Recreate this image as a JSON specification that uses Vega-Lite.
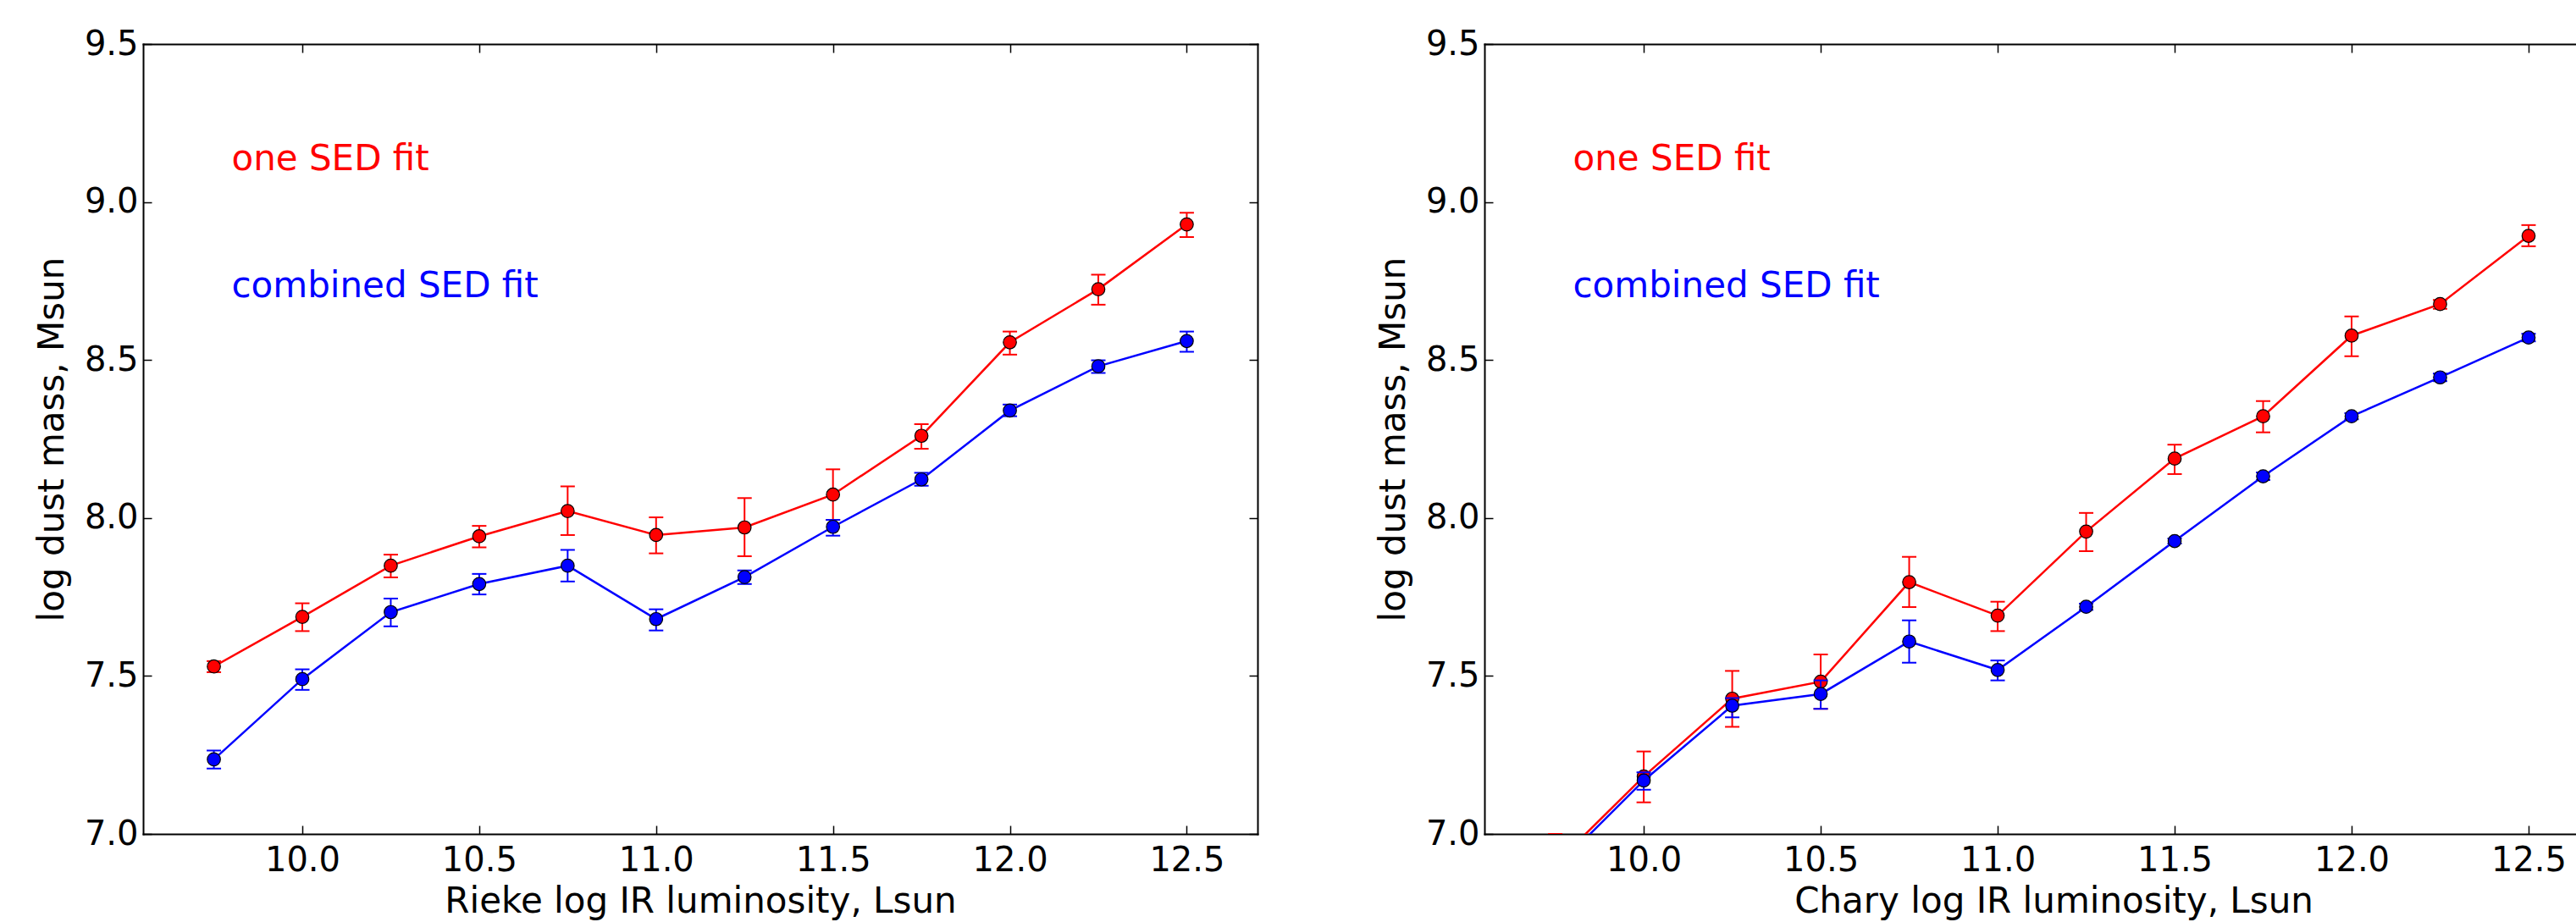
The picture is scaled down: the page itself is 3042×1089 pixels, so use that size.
{
  "$schema": "https://vega.github.io/schema/vega-lite/v6.json",
  "background": "white",
  "padding": {"left": 40, "top": 32, "right": 0, "bottom": 6},
  "config": {
    "font": "DejaVu Sans",
    "view": {"stroke": null},
    "axis": {
      "grid": false,
      "domainColor": "black",
      "domainWidth": 2,
      "domainCap": "square",
      "tickColor": "black",
      "tickWidth": 1.5,
      "tickSize": -10,
      "labelFontSize": 40,
      "labelColor": "black",
      "titleFontSize": 42,
      "titleFontWeight": "normal",
      "titleColor": "black",
      "labelFlush": false,
      "labelOverlap": false
    }
  },
  "datasets": {
    "left": [
      {"s": "one SED fit", "L": 9.75, "M": 7.530, "lo": 7.512, "hi": 7.547},
      {"s": "one SED fit", "L": 10.0, "M": 7.687, "lo": 7.642, "hi": 7.730},
      {"s": "one SED fit", "L": 10.25, "M": 7.849, "lo": 7.812, "hi": 7.884},
      {"s": "one SED fit", "L": 10.5, "M": 7.942, "lo": 7.907, "hi": 7.975},
      {"s": "one SED fit", "L": 10.75, "M": 8.022, "lo": 7.946, "hi": 8.100},
      {"s": "one SED fit", "L": 11.0, "M": 7.946, "lo": 7.888, "hi": 8.002},
      {"s": "one SED fit", "L": 11.25, "M": 7.970, "lo": 7.879, "hi": 8.063},
      {"s": "one SED fit", "L": 11.5, "M": 8.074, "lo": 7.994, "hi": 8.154},
      {"s": "one SED fit", "L": 11.75, "M": 8.260, "lo": 8.219, "hi": 8.297},
      {"s": "one SED fit", "L": 12.0, "M": 8.556, "lo": 8.517, "hi": 8.590},
      {"s": "one SED fit", "L": 12.25, "M": 8.724, "lo": 8.675, "hi": 8.770},
      {"s": "one SED fit", "L": 12.5, "M": 8.929, "lo": 8.889, "hi": 8.966},
      {"s": "combined SED fit", "L": 9.75, "M": 7.236, "lo": 7.207, "hi": 7.264},
      {"s": "combined SED fit", "L": 10.0, "M": 7.490, "lo": 7.456, "hi": 7.521},
      {"s": "combined SED fit", "L": 10.25, "M": 7.702, "lo": 7.657, "hi": 7.745},
      {"s": "combined SED fit", "L": 10.5, "M": 7.791, "lo": 7.758, "hi": 7.823},
      {"s": "combined SED fit", "L": 10.75, "M": 7.849, "lo": 7.799, "hi": 7.899},
      {"s": "combined SED fit", "L": 11.0, "M": 7.680, "lo": 7.644, "hi": 7.711},
      {"s": "combined SED fit", "L": 11.25, "M": 7.813, "lo": 7.791, "hi": 7.834},
      {"s": "combined SED fit", "L": 11.5, "M": 7.972, "lo": 7.944, "hi": 7.994},
      {"s": "combined SED fit", "L": 11.75, "M": 8.122, "lo": 8.102, "hi": 8.143},
      {"s": "combined SED fit", "L": 12.0, "M": 8.340, "lo": 8.322, "hi": 8.359},
      {"s": "combined SED fit", "L": 12.25, "M": 8.480, "lo": 8.459, "hi": 8.499},
      {"s": "combined SED fit", "L": 12.5, "M": 8.560, "lo": 8.526, "hi": 8.590}
    ],
    "right": [
      {"s": "one SED fit", "L": 9.75, "M": 6.905, "lo": 6.810, "hi": 7.000},
      {"s": "one SED fit", "L": 10.0, "M": 7.182, "lo": 7.100, "hi": 7.261},
      {"s": "one SED fit", "L": 10.25, "M": 7.428, "lo": 7.339, "hi": 7.516},
      {"s": "one SED fit", "L": 10.5, "M": 7.482, "lo": 7.396, "hi": 7.568},
      {"s": "one SED fit", "L": 10.75, "M": 7.797, "lo": 7.718, "hi": 7.877},
      {"s": "one SED fit", "L": 11.0, "M": 7.691, "lo": 7.642, "hi": 7.735},
      {"s": "one SED fit", "L": 11.25, "M": 7.957, "lo": 7.895, "hi": 8.016},
      {"s": "one SED fit", "L": 11.5, "M": 8.188, "lo": 8.139, "hi": 8.232},
      {"s": "one SED fit", "L": 11.75, "M": 8.322, "lo": 8.271, "hi": 8.370},
      {"s": "one SED fit", "L": 12.0, "M": 8.577, "lo": 8.512, "hi": 8.638},
      {"s": "one SED fit", "L": 12.25, "M": 8.677, "lo": 8.662, "hi": 8.690},
      {"s": "one SED fit", "L": 12.5, "M": 8.893, "lo": 8.860, "hi": 8.927},
      {"s": "combined SED fit", "L": 9.75, "M": 6.890, "lo": 6.860, "hi": 6.920},
      {"s": "combined SED fit", "L": 10.0, "M": 7.169, "lo": 7.140, "hi": 7.195},
      {"s": "combined SED fit", "L": 10.25, "M": 7.406, "lo": 7.369, "hi": 7.430},
      {"s": "combined SED fit", "L": 10.5, "M": 7.443, "lo": 7.396, "hi": 7.486},
      {"s": "combined SED fit", "L": 10.75, "M": 7.609, "lo": 7.542, "hi": 7.676},
      {"s": "combined SED fit", "L": 11.0, "M": 7.519, "lo": 7.486, "hi": 7.549},
      {"s": "combined SED fit", "L": 11.25, "M": 7.719, "lo": 7.709, "hi": 7.729},
      {"s": "combined SED fit", "L": 11.5, "M": 7.927, "lo": 7.919, "hi": 7.935},
      {"s": "combined SED fit", "L": 11.75, "M": 8.132, "lo": 8.120, "hi": 8.144},
      {"s": "combined SED fit", "L": 12.0, "M": 8.322, "lo": 8.312, "hi": 8.332},
      {"s": "combined SED fit", "L": 12.25, "M": 8.445, "lo": 8.433, "hi": 8.457},
      {"s": "combined SED fit", "L": 12.5, "M": 8.571, "lo": 8.559, "hi": 8.583}
    ],
    "labels": [
      {"s": "one SED fit", "L": 9.8, "M": 9.1},
      {"s": "combined SED fit", "L": 9.8, "M": 8.7}
    ]
  },
  "spacing": 268,
  "bounds": "flush",
  "hconcat": [
    {
      "width": 1316,
      "height": 933,
      "data": {"name": "left"},
      "resolve": {"axis": {"x": "independent", "y": "independent"}},
      "layer": [
        {
          "transform": [{"filter": "datum.s == 'one SED fit'"}],
          "mark": {"type": "line", "strokeWidth": 2.5, "clip": true},
          "encoding": {
            "x": {"field": "L", "type": "quantitative", "scale": {"domain": [9.55, 12.7], "nice": false, "zero": false},
                  "axis": {"orient": "bottom", "values": [10, 10.5, 11, 11.5, 12, 12.5], "format": ".1f", "labelPadding": 21,
                           "title": "Rieke log IR luminosity, Lsun", "titleBaseline": "alphabetic", "titleY": 92}},
            "y": {"field": "M", "type": "quantitative", "scale": {"domain": [7, 9.5], "nice": false, "zero": false},
                  "axis": {"orient": "left", "values": [7, 7.5, 8, 8.5, 9, 9.5], "format": ".1f", "labelPadding": 16,
                           "title": "log dust mass, Msun", "titleAngle": -90, "titleBaseline": "alphabetic", "titleX": -95}},
            "color": {"field": "s", "type": "nominal", "scale": {"domain": ["one SED fit", "combined SED fit"], "range": ["#ff0000", "#0000ff"]}, "legend": null}
          }
        },
        {
          "transform": [{"filter": "datum.s == 'one SED fit'"}],
          "mark": {"type": "rule", "strokeWidth": 2, "clip": true},
          "encoding": {
            "x": {"field": "L", "type": "quantitative", "scale": {"domain": [9.55, 12.7], "nice": false, "zero": false}, "axis": null},
            "y": {"field": "lo", "type": "quantitative", "scale": {"domain": [7, 9.5], "nice": false, "zero": false}, "axis": null},
            "y2": {"field": "hi"},
            "color": {"field": "s", "type": "nominal", "scale": {"domain": ["one SED fit", "combined SED fit"], "range": ["#ff0000", "#0000ff"]}, "legend": null}
          }
        },
        {
          "transform": [{"filter": "datum.s == 'one SED fit'"}],
          "mark": {"type": "tick", "orient": "horizontal", "size": 17, "thickness": 2, "opacity": 1, "clip": true},
          "encoding": {
            "x": {"field": "L", "type": "quantitative", "scale": {"domain": [9.55, 12.7], "nice": false, "zero": false}, "axis": null},
            "y": {"field": "lo", "type": "quantitative", "scale": {"domain": [7, 9.5], "nice": false, "zero": false}, "axis": null},
            "color": {"field": "s", "type": "nominal", "scale": {"domain": ["one SED fit", "combined SED fit"], "range": ["#ff0000", "#0000ff"]}, "legend": null}
          }
        },
        {
          "transform": [{"filter": "datum.s == 'one SED fit'"}],
          "mark": {"type": "tick", "orient": "horizontal", "size": 17, "thickness": 2, "opacity": 1, "clip": true},
          "encoding": {
            "x": {"field": "L", "type": "quantitative", "scale": {"domain": [9.55, 12.7], "nice": false, "zero": false}, "axis": null},
            "y": {"field": "hi", "type": "quantitative", "scale": {"domain": [7, 9.5], "nice": false, "zero": false}, "axis": null},
            "color": {"field": "s", "type": "nominal", "scale": {"domain": ["one SED fit", "combined SED fit"], "range": ["#ff0000", "#0000ff"]}, "legend": null}
          }
        },
        {
          "transform": [{"filter": "datum.s == 'one SED fit'"}],
          "mark": {"type": "point", "shape": "circle", "filled": true, "size": 240, "stroke": "black", "strokeWidth": 1.2, "opacity": 1, "clip": true},
          "encoding": {
            "x": {"field": "L", "type": "quantitative", "scale": {"domain": [9.55, 12.7], "nice": false, "zero": false}, "axis": null},
            "y": {"field": "M", "type": "quantitative", "scale": {"domain": [7, 9.5], "nice": false, "zero": false}, "axis": null},
            "color": {"field": "s", "type": "nominal", "scale": {"domain": ["one SED fit", "combined SED fit"], "range": ["#ff0000", "#0000ff"]}, "legend": null}
          }
        },
        {
          "transform": [{"filter": "datum.s == 'combined SED fit'"}],
          "mark": {"type": "line", "strokeWidth": 2.5, "clip": true},
          "encoding": {
            "x": {"field": "L", "type": "quantitative", "scale": {"domain": [9.55, 12.7], "nice": false, "zero": false},
                  "axis": {"orient": "top", "values": [10, 10.5, 11, 11.5, 12, 12.5], "labels": false, "title": null}},
            "y": {"field": "M", "type": "quantitative", "scale": {"domain": [7, 9.5], "nice": false, "zero": false},
                  "axis": {"orient": "right", "values": [7, 7.5, 8, 8.5, 9, 9.5], "labels": false, "title": null}},
            "color": {"field": "s", "type": "nominal", "scale": {"domain": ["one SED fit", "combined SED fit"], "range": ["#ff0000", "#0000ff"]}, "legend": null}
          }
        },
        {
          "transform": [{"filter": "datum.s == 'combined SED fit'"}],
          "mark": {"type": "rule", "strokeWidth": 2, "clip": true},
          "encoding": {
            "x": {"field": "L", "type": "quantitative", "scale": {"domain": [9.55, 12.7], "nice": false, "zero": false}, "axis": null},
            "y": {"field": "lo", "type": "quantitative", "scale": {"domain": [7, 9.5], "nice": false, "zero": false}, "axis": null},
            "y2": {"field": "hi"},
            "color": {"field": "s", "type": "nominal", "scale": {"domain": ["one SED fit", "combined SED fit"], "range": ["#ff0000", "#0000ff"]}, "legend": null}
          }
        },
        {
          "transform": [{"filter": "datum.s == 'combined SED fit'"}],
          "mark": {"type": "tick", "orient": "horizontal", "size": 17, "thickness": 2, "opacity": 1, "clip": true},
          "encoding": {
            "x": {"field": "L", "type": "quantitative", "scale": {"domain": [9.55, 12.7], "nice": false, "zero": false}, "axis": null},
            "y": {"field": "lo", "type": "quantitative", "scale": {"domain": [7, 9.5], "nice": false, "zero": false}, "axis": null},
            "color": {"field": "s", "type": "nominal", "scale": {"domain": ["one SED fit", "combined SED fit"], "range": ["#ff0000", "#0000ff"]}, "legend": null}
          }
        },
        {
          "transform": [{"filter": "datum.s == 'combined SED fit'"}],
          "mark": {"type": "tick", "orient": "horizontal", "size": 17, "thickness": 2, "opacity": 1, "clip": true},
          "encoding": {
            "x": {"field": "L", "type": "quantitative", "scale": {"domain": [9.55, 12.7], "nice": false, "zero": false}, "axis": null},
            "y": {"field": "hi", "type": "quantitative", "scale": {"domain": [7, 9.5], "nice": false, "zero": false}, "axis": null},
            "color": {"field": "s", "type": "nominal", "scale": {"domain": ["one SED fit", "combined SED fit"], "range": ["#ff0000", "#0000ff"]}, "legend": null}
          }
        },
        {
          "transform": [{"filter": "datum.s == 'combined SED fit'"}],
          "mark": {"type": "point", "shape": "circle", "filled": true, "size": 240, "stroke": "black", "strokeWidth": 1.2, "opacity": 1, "clip": true},
          "encoding": {
            "x": {"field": "L", "type": "quantitative", "scale": {"domain": [9.55, 12.7], "nice": false, "zero": false}, "axis": null},
            "y": {"field": "M", "type": "quantitative", "scale": {"domain": [7, 9.5], "nice": false, "zero": false}, "axis": null},
            "color": {"field": "s", "type": "nominal", "scale": {"domain": ["one SED fit", "combined SED fit"], "range": ["#ff0000", "#0000ff"]}, "legend": null}
          }
        },
        {
          "data": {"name": "labels"},
          "mark": {"type": "text", "align": "left", "baseline": "alphabetic", "fontSize": 42},
          "encoding": {
            "x": {"field": "L", "type": "quantitative", "scale": {"domain": [9.55, 12.7], "nice": false, "zero": false}, "axis": null},
            "y": {"field": "M", "type": "quantitative", "scale": {"domain": [7, 9.5], "nice": false, "zero": false}, "axis": null},
            "text": {"field": "s"},
            "color": {"field": "s", "type": "nominal", "scale": {"domain": ["one SED fit", "combined SED fit"], "range": ["#ff0000", "#0000ff"]}, "legend": null}
          }
        }
      ]
    },
    {
      "width": 1289,
      "height": 933,
      "data": {"name": "right"},
      "resolve": {"axis": {"x": "independent", "y": "independent"}},
      "layer": [
        {
          "transform": [{"filter": "datum.s == 'one SED fit'"}],
          "mark": {"type": "line", "strokeWidth": 2.5, "clip": true},
          "encoding": {
            "x": {"field": "L", "type": "quantitative", "scale": {"domain": [9.55, 12.634], "nice": false, "zero": false},
                  "axis": {"orient": "bottom", "values": [10, 10.5, 11, 11.5, 12, 12.5], "format": ".1f", "labelPadding": 21,
                           "title": "Chary log IR luminosity, Lsun", "titleBaseline": "alphabetic", "titleY": 92, "titleX": 672}},
            "y": {"field": "M", "type": "quantitative", "scale": {"domain": [7, 9.5], "nice": false, "zero": false},
                  "axis": {"orient": "left", "values": [7, 7.5, 8, 8.5, 9, 9.5], "format": ".1f", "labelPadding": 16,
                           "title": "log dust mass, Msun", "titleAngle": -90, "titleBaseline": "alphabetic", "titleX": -95}},
            "color": {"field": "s", "type": "nominal", "scale": {"domain": ["one SED fit", "combined SED fit"], "range": ["#ff0000", "#0000ff"]}, "legend": null}
          }
        },
        {
          "transform": [{"filter": "datum.s == 'one SED fit'"}],
          "mark": {"type": "rule", "strokeWidth": 2, "clip": true},
          "encoding": {
            "x": {"field": "L", "type": "quantitative", "scale": {"domain": [9.55, 12.634], "nice": false, "zero": false}, "axis": null},
            "y": {"field": "lo", "type": "quantitative", "scale": {"domain": [7, 9.5], "nice": false, "zero": false}, "axis": null},
            "y2": {"field": "hi"},
            "color": {"field": "s", "type": "nominal", "scale": {"domain": ["one SED fit", "combined SED fit"], "range": ["#ff0000", "#0000ff"]}, "legend": null}
          }
        },
        {
          "transform": [{"filter": "datum.s == 'one SED fit'"}],
          "mark": {"type": "tick", "orient": "horizontal", "size": 17, "thickness": 2, "opacity": 1, "clip": true},
          "encoding": {
            "x": {"field": "L", "type": "quantitative", "scale": {"domain": [9.55, 12.634], "nice": false, "zero": false}, "axis": null},
            "y": {"field": "lo", "type": "quantitative", "scale": {"domain": [7, 9.5], "nice": false, "zero": false}, "axis": null},
            "color": {"field": "s", "type": "nominal", "scale": {"domain": ["one SED fit", "combined SED fit"], "range": ["#ff0000", "#0000ff"]}, "legend": null}
          }
        },
        {
          "transform": [{"filter": "datum.s == 'one SED fit'"}],
          "mark": {"type": "tick", "orient": "horizontal", "size": 17, "thickness": 2, "opacity": 1, "clip": true},
          "encoding": {
            "x": {"field": "L", "type": "quantitative", "scale": {"domain": [9.55, 12.634], "nice": false, "zero": false}, "axis": null},
            "y": {"field": "hi", "type": "quantitative", "scale": {"domain": [7, 9.5], "nice": false, "zero": false}, "axis": null},
            "color": {"field": "s", "type": "nominal", "scale": {"domain": ["one SED fit", "combined SED fit"], "range": ["#ff0000", "#0000ff"]}, "legend": null}
          }
        },
        {
          "transform": [{"filter": "datum.s == 'one SED fit'"}],
          "mark": {"type": "point", "shape": "circle", "filled": true, "size": 240, "stroke": "black", "strokeWidth": 1.2, "opacity": 1, "clip": true},
          "encoding": {
            "x": {"field": "L", "type": "quantitative", "scale": {"domain": [9.55, 12.634], "nice": false, "zero": false}, "axis": null},
            "y": {"field": "M", "type": "quantitative", "scale": {"domain": [7, 9.5], "nice": false, "zero": false}, "axis": null},
            "color": {"field": "s", "type": "nominal", "scale": {"domain": ["one SED fit", "combined SED fit"], "range": ["#ff0000", "#0000ff"]}, "legend": null}
          }
        },
        {
          "transform": [{"filter": "datum.s == 'combined SED fit'"}],
          "mark": {"type": "line", "strokeWidth": 2.5, "clip": true},
          "encoding": {
            "x": {"field": "L", "type": "quantitative", "scale": {"domain": [9.55, 12.634], "nice": false, "zero": false},
                  "axis": {"orient": "top", "values": [10, 10.5, 11, 11.5, 12, 12.5], "labels": false, "title": null}},
            "y": {"field": "M", "type": "quantitative", "scale": {"domain": [7, 9.5], "nice": false, "zero": false}, "axis": null},
            "color": {"field": "s", "type": "nominal", "scale": {"domain": ["one SED fit", "combined SED fit"], "range": ["#ff0000", "#0000ff"]}, "legend": null}
          }
        },
        {
          "transform": [{"filter": "datum.s == 'combined SED fit'"}],
          "mark": {"type": "rule", "strokeWidth": 2, "clip": true},
          "encoding": {
            "x": {"field": "L", "type": "quantitative", "scale": {"domain": [9.55, 12.634], "nice": false, "zero": false}, "axis": null},
            "y": {"field": "lo", "type": "quantitative", "scale": {"domain": [7, 9.5], "nice": false, "zero": false}, "axis": null},
            "y2": {"field": "hi"},
            "color": {"field": "s", "type": "nominal", "scale": {"domain": ["one SED fit", "combined SED fit"], "range": ["#ff0000", "#0000ff"]}, "legend": null}
          }
        },
        {
          "transform": [{"filter": "datum.s == 'combined SED fit'"}],
          "mark": {"type": "tick", "orient": "horizontal", "size": 17, "thickness": 2, "opacity": 1, "clip": true},
          "encoding": {
            "x": {"field": "L", "type": "quantitative", "scale": {"domain": [9.55, 12.634], "nice": false, "zero": false}, "axis": null},
            "y": {"field": "lo", "type": "quantitative", "scale": {"domain": [7, 9.5], "nice": false, "zero": false}, "axis": null},
            "color": {"field": "s", "type": "nominal", "scale": {"domain": ["one SED fit", "combined SED fit"], "range": ["#ff0000", "#0000ff"]}, "legend": null}
          }
        },
        {
          "transform": [{"filter": "datum.s == 'combined SED fit'"}],
          "mark": {"type": "tick", "orient": "horizontal", "size": 17, "thickness": 2, "opacity": 1, "clip": true},
          "encoding": {
            "x": {"field": "L", "type": "quantitative", "scale": {"domain": [9.55, 12.634], "nice": false, "zero": false}, "axis": null},
            "y": {"field": "hi", "type": "quantitative", "scale": {"domain": [7, 9.5], "nice": false, "zero": false}, "axis": null},
            "color": {"field": "s", "type": "nominal", "scale": {"domain": ["one SED fit", "combined SED fit"], "range": ["#ff0000", "#0000ff"]}, "legend": null}
          }
        },
        {
          "transform": [{"filter": "datum.s == 'combined SED fit'"}],
          "mark": {"type": "point", "shape": "circle", "filled": true, "size": 240, "stroke": "black", "strokeWidth": 1.2, "opacity": 1, "clip": true},
          "encoding": {
            "x": {"field": "L", "type": "quantitative", "scale": {"domain": [9.55, 12.634], "nice": false, "zero": false}, "axis": null},
            "y": {"field": "M", "type": "quantitative", "scale": {"domain": [7, 9.5], "nice": false, "zero": false}, "axis": null},
            "color": {"field": "s", "type": "nominal", "scale": {"domain": ["one SED fit", "combined SED fit"], "range": ["#ff0000", "#0000ff"]}, "legend": null}
          }
        },
        {
          "data": {"name": "labels"},
          "mark": {"type": "text", "align": "left", "baseline": "alphabetic", "fontSize": 42},
          "encoding": {
            "x": {"field": "L", "type": "quantitative", "scale": {"domain": [9.55, 12.634], "nice": false, "zero": false}, "axis": null},
            "y": {"field": "M", "type": "quantitative", "scale": {"domain": [7, 9.5], "nice": false, "zero": false}, "axis": null},
            "text": {"field": "s"},
            "color": {"field": "s", "type": "nominal", "scale": {"domain": ["one SED fit", "combined SED fit"], "range": ["#ff0000", "#0000ff"]}, "legend": null}
          }
        }
      ]
    }
  ]
}
